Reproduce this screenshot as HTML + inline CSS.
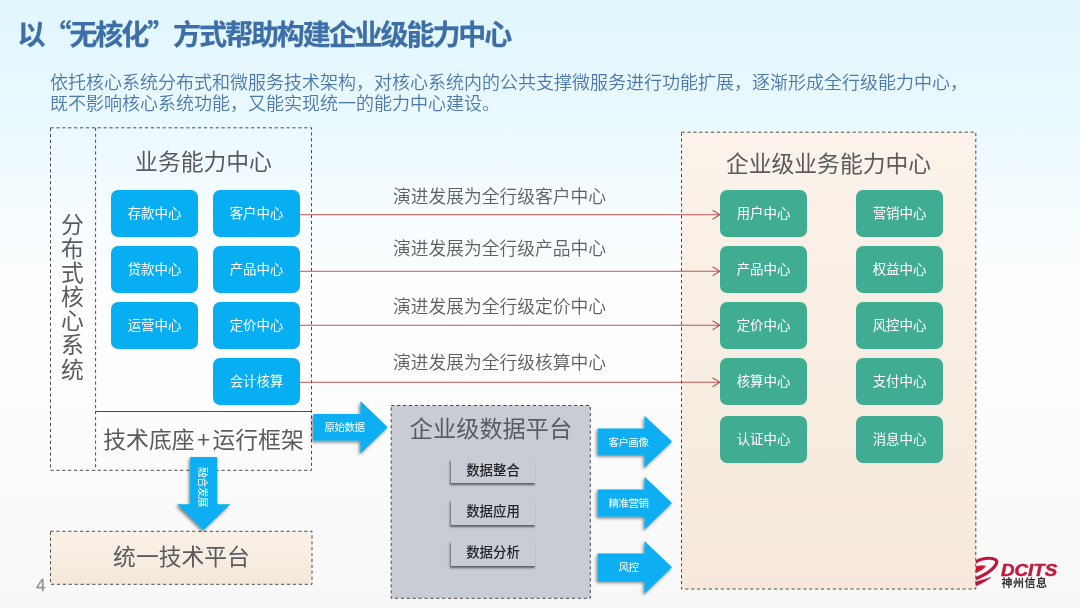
<!DOCTYPE html>
<html lang="zh-CN">
<head>
<meta charset="utf-8">
<title>以“无核化”方式帮助构建企业级能力中心</title>
<style>
*{margin:0;padding:0;box-sizing:border-box;}
html,body{width:1080px;height:608px;overflow:hidden;background:#fff;}
body{font-family:"Liberation Sans","Noto Sans CJK SC",sans-serif;color:#5c5c5c;}
#slide{position:relative;width:1080px;height:608px;overflow:hidden;
  background:linear-gradient(to bottom,#e0f6fd 0px,#eaf9fe 120px,#f6fcfe 210px,#fefefe 300px,#fdfdfd 400px,#fafafa 500px,#f8f8f8 608px);}
#txt{position:absolute;left:0;top:0;width:1080px;height:608px;opacity:.999;}
.abs{position:absolute;white-space:nowrap;}
.q{font-family:"Noto Sans CJK SC",sans-serif;}
h1{position:absolute;left:17.5px;top:15px;font-size:28px;line-height:36px;font-weight:700;color:#3e6ea6;-webkit-text-stroke:.25px #3e6ea6;white-space:nowrap;letter-spacing:-2.07px;}
.sub{position:absolute;left:50px;top:73px;font-size:18px;line-height:21.4px;font-weight:350;color:#4c78ab;white-space:nowrap;}
.hd{position:absolute;font-size:22.8px;line-height:30px;font-weight:400;color:#595b5f;white-space:nowrap;text-align:center;}
.bx{position:absolute;width:87px;height:47px;border-radius:7px;color:#fff;font-size:13.4px;line-height:47px;text-align:center;white-space:nowrap;}
.blue{background:#07aef2;}
.green{background:#40ad92;}
.lbl{position:absolute;left:393px;font-size:17.75px;line-height:22px;font-weight:350;color:#5e6062;white-space:nowrap;}
.sl{position:absolute;left:450.5px;width:85px;height:24.5px;font-size:13.4px;line-height:24.5px;font-weight:500;text-align:center;color:#262626;background:#c8ccd5;box-shadow:-1.5px 1.5px 2px rgba(0,0,0,.55);clip-path:inset(0 0 -8px -8px);white-space:nowrap;}
.at{position:absolute;color:#fff;font-size:10.5px;line-height:12px;font-weight:400;letter-spacing:-.5px;white-space:nowrap;text-align:center;}
svg{position:absolute;left:0;top:0;}
</style>
</head>
<body>
<div id="slide">
<svg width="1080" height="608" viewBox="0 0 1080 608">
  <defs>
    <linearGradient id="peach" x1="0" y1="0" x2="0" y2="1"><stop offset="0" stop-color="#fbf2ea"/><stop offset="1" stop-color="#f6e9db"/></linearGradient>
    <linearGradient id="peach2" x1="0" y1="0" x2="0" y2="1"><stop offset="0" stop-color="#faf1e7"/><stop offset="1" stop-color="#f5e8da"/></linearGradient>
    <filter id="sh" x="-20%" y="-20%" width="140%" height="140%"><feDropShadow dx="-1.300" dy="1.800" stdDeviation="1.500" flood-color="#000" flood-opacity=".5"/></filter>
  </defs>
  <g id="logo-mark" fill="none" stroke-linecap="round">
    <path d="M972 564.800C976 561 983 558.200 989 558.300C995 558.400 998 560.300 996.300 563.800C994 568.500 986 575 972 580.200" stroke="#bf1539" stroke-width="3.100"/>
    <path d="M972 568.600C976 566 981 565.300 985.500 566.200C982.500 569.800 978 572 972 574.200Z" fill="#d6112e" stroke="#d6112e" stroke-width=".8" stroke-linejoin="round"/>
    <path d="M972 582.800C979 581 986 579 991 577.200C986 581.500 979 585 972 587.600Z" fill="#b5163a" stroke="#b5163a" stroke-width=".5" stroke-linejoin="round"/>
  </g>
  <g fill="none" stroke="#4c4c4c" stroke-width="1" stroke-dasharray="3.200 2.700">
    <rect x="50.500" y="127.800" width="261" height="342.500"/>
    <path d="M95.600 127.800V470.300"/>
    <rect x="50.500" y="531.300" width="261.500" height="53" fill="url(#peach2)"/>
    <rect x="681.500" y="132.200" width="294.300" height="456.800" fill="url(#peach)"/>
    <rect x="391.200" y="405.500" width="199.100" height="192.800" fill="#c8ccd5"/>
  </g>
  <path d="M95.600 411.500H311.500" stroke="#4a4a4a" stroke-width="1" fill="none"/>
  <g stroke="#bb5454" stroke-width="1.1" fill="none">
    <path d="M300 214.700H720M712.500 210.200L720 214.700L712.500 219.200"/>
    <path d="M300 271.300H720M712.500 266.800L720 271.300L712.500 275.800"/>
    <path d="M300 325.300H720M712.500 320.800L720 325.300L712.500 329.800"/>
    <path d="M300 382.200H720M712.500 377.700L720 382.200L712.500 386.700"/>
  </g>
  <g fill="#07aef2" filter="url(#sh)">
    <path d="M313.300 414H360.500V401L387.700 427.200L360.500 453.500V440.500H313.300Z"/>
    <path d="M597.700 428.500H644.500V415.700L672 441.600L644.500 467.600V454.800H597.700Z"/>
    <path d="M597.700 489.600H644.500V476.700L672 503L644.500 529.400V516.500H597.700Z"/>
    <path d="M597.700 553.400H644.500V541.100L672 567.200L644.500 593.700V581H597.700Z"/>
    <path d="M190.200 457.100H217.300V504.200H230.300L203.500 529.900L177 504.200H190.200Z"/>
  </g>
</svg>
<div id="txt">
<h1>以<span class="q">“</span>无核化<span class="q">”</span>方式帮助构建企业级能力中心</h1>
<p class="sub">依托核心系统分布式和微服务技术架构，对核心系统内的公共支撑微服务进行功能扩展，逐渐形成全行级能力中心，<br>既不影响核心系统功能，又能实现统一的能力中心建设。</p>

<div class="hd" style="left:95px;width:217px;top:147px;">业务能力中心</div>
<div class="hd" style="left:61px;width:23px;top:213px;line-height:24.1px;white-space:normal;">分布式核心系统</div>
<div class="hd" style="left:95px;width:217px;top:424px;">技术底座<span class="q" style="margin:0 2.7px;">+</span>运行框架</div>

<div class="bx blue" style="left:111px;top:190px;">存款中心</div>
<div class="bx blue" style="left:213px;top:190px;">客户中心</div>
<div class="bx blue" style="left:111px;top:246px;">贷款中心</div>
<div class="bx blue" style="left:213px;top:246px;">产品中心</div>
<div class="bx blue" style="left:111px;top:302px;">运营中心</div>
<div class="bx blue" style="left:213px;top:302px;">定价中心</div>
<div class="bx blue" style="left:213px;top:358px;">会计核算</div>

<div class="hd" style="left:50px;width:263px;top:542px;">统一技术平台</div>

<div class="lbl" style="top:186px;">演进发展为全行级客户中心</div>
<div class="lbl" style="top:238px;">演进发展为全行级产品中心</div>
<div class="lbl" style="top:296px;">演进发展为全行级定价中心</div>
<div class="lbl" style="top:352px;">演进发展为全行级核算中心</div>

<div class="hd" style="left:681px;width:295px;top:149px;">企业级业务能力中心</div>
<div class="bx green" style="left:720px;top:190px;">用户中心</div>
<div class="bx green" style="left:856px;top:190px;">营销中心</div>
<div class="bx green" style="left:720px;top:246px;">产品中心</div>
<div class="bx green" style="left:856px;top:246px;">权益中心</div>
<div class="bx green" style="left:720px;top:302px;">定价中心</div>
<div class="bx green" style="left:856px;top:302px;">风控中心</div>
<div class="bx green" style="left:720px;top:358px;">核算中心</div>
<div class="bx green" style="left:856px;top:358px;">支付中心</div>
<div class="bx green" style="left:720px;top:416px;">认证中心</div>
<div class="bx green" style="left:856px;top:416px;">消息中心</div>

<div class="hd" style="left:391.5px;width:199px;top:414px;font-size:23.2px;">企业级数据平台</div>
<div class="sl" style="top:458.500px;">数据整合</div>
<div class="sl" style="top:500px;">数据应用</div>
<div class="sl" style="top:541px;">数据分析</div>

<div class="at" style="left:314px;width:61px;top:421px;">原始数据</div>
<div class="at" style="left:598px;width:61px;top:436px;">客户画像</div>
<div class="at" style="left:598px;width:61px;top:497px;">精准营销</div>
<div class="at" style="left:598px;width:61px;top:561px;">风控</div>
<div class="at" style="left:172px;width:61px;top:481px;transform:rotate(90deg);">融合发展</div>

<div class="abs" style="left:35.500px;top:575px;font-size:16.3px;line-height:20px;color:#959595;-webkit-text-stroke:.3px #959595;transform-origin:0 50%;transform:scaleX(1.06);">4</div>

<div class="abs" style="left:1000.500px;top:562px;font-size:15.6px;line-height:18px;font-weight:700;font-style:italic;color:#c5183d;-webkit-text-stroke:.45px #c5183d;transform-origin:0 50%;transform:scaleX(1.2);">DCITS</div>
<div class="abs" style="left:1001.500px;top:576px;font-size:11px;line-height:14px;font-weight:700;letter-spacing:.5px;color:#333;">神州信息</div>
</div>
</div>
</body>
</html>
